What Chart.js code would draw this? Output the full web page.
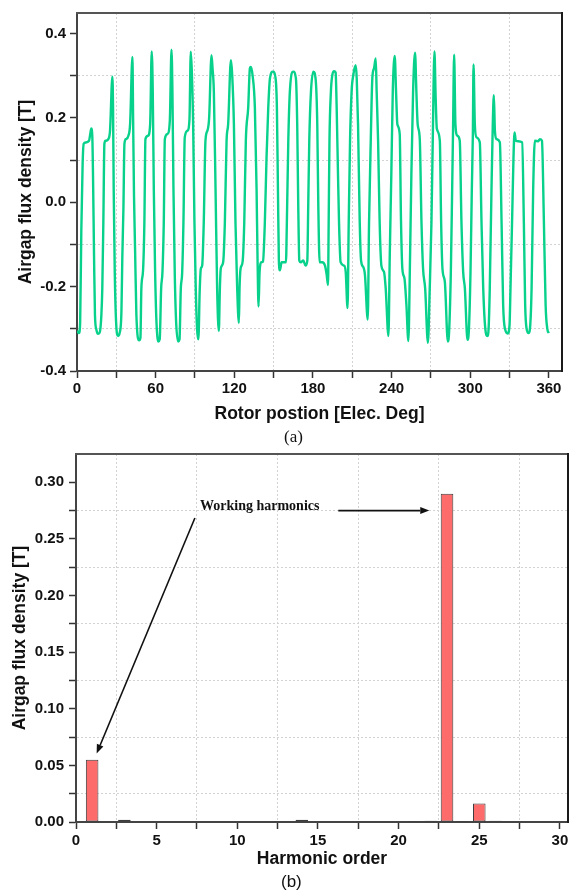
<!DOCTYPE html>
<html>
<head>
<meta charset="utf-8">
<script src="https://cdn.jsdelivr.net/npm/chart.js@4.4.1/dist/chart.umd.min.js"></script>
<style>
  body { margin: 0; background: #fff; width: 573px; height: 894px; position: relative; overflow: hidden; }
  #wrapA { position: absolute; left: 0; top: 0; }
  #wrapB { position: absolute; left: 0; top: 440px; }
  .cap { position: absolute; font-size: 17px; line-height: 20px; color: #111; }
  #capA { left: 284px; top: 427px; font-family: 'Liberation Serif', 'Times New Roman', serif; }
  #capB { left: 281px; top: 872px; font-family: 'Liberation Sans', Arial, sans-serif; }
</style>
</head>
<body>
<div id="wrapA"><canvas id="fluxChart" width="573" height="430"></canvas></div>
<div id="wrapB"><canvas id="harmChart" width="573" height="440"></canvas></div>
<div class="cap" id="capA">(a)</div>
<div class="cap" id="capB">(b)</div>
<script>
// (a) airgap flux density vs rotor position
var rotorAngle = [
    0.0, 1.5, 2.4, 3.3, 4.3, 5.1, 6.6, 9.2, 9.9, 10.9, 11.7, 12.2, 13.0, 13.7, 14.8, 16.0, 17.3, 18.6,
    19.3, 20.1, 20.9, 21.9, 23.9, 25.2, 27.0, 27.5, 28.0, 28.8, 29.8, 31.3, 32.6,
    33.9, 34.6, 35.4, 36.2, 37.4, 39.2, 40.5, 42.3, 42.8, 43.5, 44.3, 45.3, 47.4, 48.4,
    49.1, 50.4, 51.4, 52.2, 54.2, 55.8, 57.0, 57.8, 58.6, 59.6, 60.6, 62.1, 63.1,
    64.2, 65.2, 66.2, 67.0, 69.0, 70.8, 72.1, 72.8, 73.6, 74.6, 75.6, 77.1, 78.2,
    79.2, 80.2, 81.2, 82.2, 84.3, 85.8, 86.8, 87.6, 88.6, 89.6, 90.6, 91.6, 92.6,
    93.6, 94.5, 95.5, 96.7, 98.0, 99.5, 100.8, 102.6, 103.4, 104.4, 105.7, 106.9, 108.2,
    109.0, 109.7, 111.5, 112.8, 114.1, 115.3, 117.4, 118.4, 119.7, 120.9, 122.2, 123.5,
    124.0, 124.8, 126.3, 127.6, 128.8, 130.6, 131.9, 132.6, 133.9, 135.7, 137.0, 137.7, 138.5, 139.3, 140.8, 141.9,
    143.3, 144.6, 145.9, 147.2, 149.5, 151.5, 152.5, 153.3, 154.0, 154.8, 156.1, 158.1, 159.4,
    160.1, 161.2, 162.4, 165.0, 167.0, 168.0, 168.8, 169.6, 170.8, 172.6, 174.4, 175.7,
    176.4, 177.2, 178.5, 180.3, 182.0, 183.3, 184.1, 185.1, 187.1, 189.2, 190.4, 191.5,
    192.0, 192.6, 193.7, 194.8, 196.1, 197.3, 198.1, 199.1, 199.9, 201.1, 203.7, 205.0, 206.4,
    207.3, 208.3, 209.5, 210.8, 212.6, 213.4, 214.4, 215.7, 216.7, 218.5, 219.7, 221.8,
    222.8, 224.1, 225.3, 226.6, 227.9, 228.6, 229.7, 230.9, 232.2, 234.2, 235.5, 237.6,
    238.6, 239.8, 240.9, 242.4, 243.4, 244.4, 246.2, 247.2, 248.2, 249.8, 251.3, 252.8,
    254.1, 255.1, 256.4, 257.9, 258.9, 259.9, 261.5, 262.8, 264.0, 265.6, 267.7,
    269.1, 270.4, 271.4, 272.7, 273.6, 274.5, 276.8, 277.8, 278.8, 280.6, 282.9, 283.9,
    285.2, 286.2, 286.9, 287.7, 288.7, 290.2, 292.0, 293.3, 294.6, 295.9, 297.9, 299.0,
    300.2, 301.2, 302.0, 302.5, 303.5, 304.8, 307.3, 308.6, 309.9, 311.5, 313.1, 314.0,
    314.9, 316.2, 317.2, 318.0, 318.8, 320.0, 322.6, 323.9, 325.1, 326.5, 328.6, 330.0,
    330.7, 331.9, 333.0, 333.8, 334.8, 336.6, 339.6, 340.9, 341.9, 343.0, 344.5, 345.8,
    346.8, 348.0, 349.3, 351.9, 353.1, 354.7, 356.2, 357.5, 358.8, 360.0
];
var airgapFlux = [
    -0.305, -0.310, -0.285, -0.065, 0.092, 0.139, 0.142, 0.146, 0.158, 0.175, 0.154, 0.068, -0.126, -0.267, -0.302, -0.312, -0.309, -0.267,
    -0.204, -0.048, 0.139, 0.146, 0.150, 0.170, 0.298, 0.224, 0.030, -0.165, -0.282, -0.317, -0.309,
    -0.259, -0.126, -0.017, 0.139, 0.150, 0.158, 0.185, 0.345, 0.201, 0.014, -0.110, -0.267, -0.327, -0.321,
    -0.204, -0.161, -0.048, 0.150, 0.158, 0.185, 0.358, 0.263, 0.030, -0.165, -0.282, -0.330, -0.325,
    -0.204, -0.165, -0.048, 0.150, 0.162, 0.193, 0.362, 0.263, 0.030, -0.173, -0.282, -0.330, -0.325,
    -0.204, -0.169, -0.048, 0.154, 0.170, 0.197, 0.357, 0.310, 0.185, -0.048, -0.204, -0.300, -0.325,
    -0.210, -0.157, -0.150, -0.048, 0.146, 0.170, 0.200, 0.349, 0.318, 0.263, 0.030, -0.204, -0.305,
    -0.204, -0.157, -0.142, -0.048, 0.146, 0.185, 0.337, 0.302, 0.185, -0.048, -0.204, -0.286,
    -0.204, -0.157, -0.142, -0.048, 0.146, 0.224, 0.318, 0.321, 0.302, 0.224, 0.030, -0.126, -0.247, -0.165, -0.142, -0.140,
    -0.048, 0.107, 0.224, 0.294, 0.310, 0.294, 0.224, 0.030, -0.138, -0.161, -0.142, -0.142, -0.142,
    -0.048, 0.146, 0.263, 0.310, 0.294, 0.185, -0.009, -0.138, -0.142, -0.138, -0.150, -0.138,
    -0.009, 0.146, 0.263, 0.310, 0.294, 0.185, -0.009, -0.142, -0.142, -0.150, -0.170, -0.196,
    -0.048, 0.146, 0.263, 0.302, 0.311, 0.308, 0.224, 0.068, -0.048, -0.142, -0.150, -0.165, -0.251,
    -0.048, 0.146, 0.263, 0.302, 0.325, 0.294, 0.185, -0.048, -0.138, -0.154, -0.173, -0.278,
    -0.048, 0.146, 0.294, 0.318, 0.341, 0.263, 0.146, -0.048, -0.150, -0.165, -0.204, -0.317,
    -0.126, 0.068, 0.263, 0.347, 0.263, 0.185, 0.162, -0.048, -0.157, -0.180, -0.243, -0.329,
    -0.126, 0.068, 0.263, 0.355, 0.263, 0.185, 0.150, -0.048, -0.157, -0.204, -0.333,
    -0.204, -0.048, 0.146, 0.358, 0.250, 0.175, 0.146, -0.048, -0.157, -0.188, -0.330, -0.305,
    -0.165, 0.030, 0.177, 0.350, 0.185, 0.158, 0.146, -0.048, -0.165, -0.204, -0.326, -0.300,
    -0.165, 0.030, 0.162, 0.327, 0.185, 0.154, 0.142, -0.048, -0.204, -0.300, -0.317, -0.300,
    -0.204, 0.030, 0.185, 0.254, 0.170, 0.150, 0.142, -0.048, -0.243, -0.300, -0.311, -0.290,
    -0.204, -0.048, 0.107, 0.166, 0.146, 0.145, 0.142, -0.048, -0.243, -0.300, -0.310, -0.290,
    -0.204, 0.030, 0.146, 0.145, 0.150, 0.146, -0.048, -0.243, -0.300, -0.310
];

// (b) harmonic spectrum
var harmonicOrder = [1, 3, 14, 21, 22, 23, 24, 25, 26];
var harmonicAmp = [0.055, 0.002, 0.002, 0.0009, 0.0012, 0.29, 0.0009, 0.0163, 0.0012];

var sansFam = "'Liberation Sans', Arial, sans-serif";
var tickFont = { family: sansFam, size: 15, weight: 'bold' };
var titleFont = { family: sansFam, size: 17.5, weight: 'bold', lineHeight: 1.2 };
var clear = 'rgba(0,0,0,0)';

function isMajor(v, step) {
    var r = v / step;
    return Math.abs(r - Math.round(r)) < 1e-6;
}

// grid only on the minor (in-between) ticks, dotted, like Origin
function gridFor(major) {
    return {
        color: function (c) {
            if (!c.tick) return clear;
            if (c.tick.value >= c.scale.max - 1e-9) return clear;
            return isMajor(c.tick.value, major) ? clear : '#d2d2d2';
        },
        lineWidth: 1,
        tickLength: 7,
        tickWidth: 1.5,
        tickColor: function (c) {
            if (c.tick && c.tick.value >= c.scale.max - 1e-9) return clear;
            return '#333';
        }
    };
}

var axisBorder = {
    color: '#444',
    width: 2,
    dash: function (c) { return c.type === 'tick' ? [2, 2] : []; }
};

var framePlugin = {
    id: 'frame',
    afterDraw: function (chart) {
        var ctx = chart.ctx, a = chart.chartArea;
        ctx.save();
        ctx.lineWidth = 2;
        ctx.strokeStyle = '#555';
        ctx.beginPath();
        ctx.moveTo(a.left - 1, a.top);
        ctx.lineTo(a.right, a.top);
        ctx.stroke();
        ctx.strokeStyle = '#1a1a1a';
        ctx.beginPath();
        ctx.moveTo(a.right, a.top - 1);
        ctx.lineTo(a.right, a.bottom + 1);
        ctx.stroke();
        ctx.restore();
    }
};

var fluxChart = new Chart(document.getElementById('fluxChart'), {
    type: 'line',
    data: {
        datasets: [{
            data: rotorAngle.map(function (a, i) { return { x: a, y: airgapFlux[i] }; }),
            borderColor: '#07d18b',
            borderWidth: 2.4,
            pointRadius: 0,
            cubicInterpolationMode: 'monotone',
            borderJoinStyle: 'round',
            fill: false
        }]
    },
    options: {
        responsive: false,
        animation: false,
        layout: { padding: { left: 0, top: 7, right: 11, bottom: 0 } },
        plugins: { legend: { display: false }, tooltip: { enabled: false } },
        scales: {
            x: {
                type: 'linear', min: 0, max: 370,
                afterFit: function (s) { s.height = 59; },
                ticks: {
                    stepSize: 30, autoSkip: false, includeBounds: false, maxRotation: 0,
                    padding: 2, color: '#111', font: tickFont,
                    callback: function (v) { return isMajor(v, 60) ? String(v) : ''; }
                },
                grid: gridFor(60),
                border: axisBorder,
                title: { display: true, text: 'Rotor postion [Elec. Deg]', color: '#111', font: titleFont, padding: { top: 0, bottom: 5 } }
            },
            y: {
                min: -0.4, max: 0.449,
                afterFit: function (s) { s.width = 77; },
                ticks: {
                    stepSize: 0.1, autoSkip: false, includeBounds: false,
                    padding: 4, color: '#111', font: tickFont,
                    callback: function (v) { return isMajor(v, 0.2) ? v.toFixed(1) : ''; }
                },
                grid: gridFor(0.2),
                border: axisBorder,
                title: { display: true, text: 'Airgap flux density [T]', color: '#111', font: titleFont, padding: { top: 16, bottom: 0 } }
            }
        }
    },
    plugins: [framePlugin]
});

// arrows and label of panel (b), placed in data units
var notePlugin = {
    id: 'note',
    afterDraw: function (chart) {
        var ctx = chart.ctx, xs = chart.scales.x, ys = chart.scales.y;
        var arrows = [
            [7.37, 0.2685, 1.28, 0.0605],
            [16.26, 0.2750, 21.9, 0.2750]
        ];
        ctx.save();
        ctx.strokeStyle = '#111';
        ctx.fillStyle = '#111';
        ctx.lineWidth = 1.6;
        arrows.forEach(function (ar) {
            var x1 = xs.getPixelForValue(ar[0]), y1 = ys.getPixelForValue(ar[1]);
            var x2 = xs.getPixelForValue(ar[2]), y2 = ys.getPixelForValue(ar[3]);
            var ang = Math.atan2(y2 - y1, x2 - x1);
            var hl = 9, hw = 3.5;
            var bx = x2 - hl * Math.cos(ang), by = y2 - hl * Math.sin(ang);
            ctx.beginPath();
            ctx.moveTo(x1, y1);
            ctx.lineTo(bx, by);
            ctx.stroke();
            ctx.beginPath();
            ctx.moveTo(x2, y2);
            ctx.lineTo(bx + hw * Math.sin(ang), by - hw * Math.cos(ang));
            ctx.lineTo(bx - hw * Math.sin(ang), by + hw * Math.cos(ang));
            ctx.closePath();
            ctx.fill();
        });
        ctx.font = "bold 14px 'Liberation Serif', 'Times New Roman', serif";
        ctx.textBaseline = 'alphabetic';
        ctx.fillText('Working harmonics', xs.getPixelForValue(7.69), ys.getPixelForValue(0.2754));
        ctx.restore();
    }
};

var harmChart = new Chart(document.getElementById('harmChart'), {
    type: 'bar',
    data: {
        datasets: [{
            data: harmonicOrder.map(function (h, i) { return { x: h, y: harmonicAmp[i] }; }),
            backgroundColor: '#fd6b6b',
            borderColor: '#3c3c3c',
            borderWidth: 1,
            borderSkipped: false,
            barPercentage: 0.78,
            categoryPercentage: 1
        }]
    },
    options: {
        responsive: false,
        animation: false,
        layout: { padding: { left: 0, top: 14, right: 5, bottom: 0 } },
        plugins: { legend: { display: false }, tooltip: { enabled: false } },
        scales: {
            x: {
                type: 'linear', min: 0, max: 30.5, offset: false,
                afterFit: function (s) { s.height = 58; },
                ticks: {
                    stepSize: 2.5, autoSkip: false, includeBounds: false, maxRotation: 0,
                    padding: 3, color: '#111', font: tickFont,
                    callback: function (v) { return isMajor(v, 5) ? String(v) : ''; }
                },
                grid: Object.assign(gridFor(5), { offset: false }),
                border: axisBorder,
                title: { display: true, text: 'Harmonic order', color: '#111', font: titleFont, padding: { top: 0, bottom: 10 } }
            },
            y: {
                min: 0, max: 0.325,
                afterFit: function (s) { s.width = 76; },
                ticks: {
                    stepSize: 0.025, autoSkip: false, includeBounds: false,
                    padding: 5, color: '#111', font: tickFont,
                    callback: function (v) { return isMajor(v, 0.05) ? v.toFixed(2) : ''; }
                },
                grid: gridFor(0.05),
                border: axisBorder,
                title: { display: true, text: 'Airgap flux density [T]', color: '#111', font: titleFont, padding: { top: 10, bottom: 0 } }
            }
        }
    },
    plugins: [framePlugin, notePlugin]
});
</script>
</body>
</html>
